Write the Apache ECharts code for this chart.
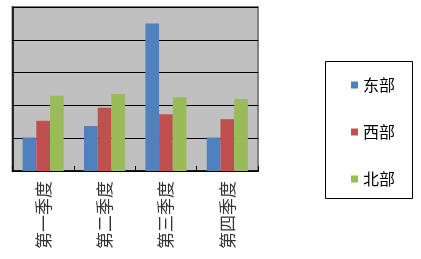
<!DOCTYPE html>
<html><head><meta charset="utf-8">
<script src="https://cdn.jsdelivr.net/npm/echarts@6/dist/echarts.min.js"></script>
<style>html,body{margin:0;padding:0;background:#fff}#c{width:421px;height:259px}</style>
</head><body><div id="c"></div>
<script>
const categories = ['第一季度','第二季度','第三季度','第四季度'];
const east = [20.4, 27.4, 90, 20.4];
const west = [30.6, 38.6, 34.6, 31.6];
const north = [45.9, 46.9, 45, 43.9];
const seriesNames = ['东部','西部','北部'];
const colors = ['#4F81BD','#C0504D','#9BBB59'];
const font = '"Noto Sans CJK SC", sans-serif';
const chart = echarts.init(document.getElementById('c'));
chart.setOption({
  animation:false,
  grid:{left:12.5,top:7,right:163,bottom:88,show:true,backgroundColor:'#C0C0C0',borderColor:'#808080',borderWidth:2},
  xAxis:{type:'category',data:categories,
    axisLine:{lineStyle:{color:'#000',width:1.5}},
    axisTick:{show:true,inside:true,length:5,lineStyle:{color:'#000'}},
    axisLabel:{rotate:90,margin:10,fontSize:17,color:'#333',fontFamily:font}},
  yAxis:{type:'value',min:0,max:100,interval:20,
    axisLine:{show:true,lineStyle:{color:'#000',width:1.5}},
    axisTick:{show:false},axisLabel:{show:false},
    splitLine:{lineStyle:{color:'#000',width:1}}},
  legend:{orient:'vertical',left:346,top:72,itemWidth:7,itemHeight:7,itemGap:31,icon:'rect',
    textStyle:{fontSize:16,lineHeight:16,color:'#000',fontFamily:font},data:seriesNames},
  graphic:[{type:'rect',shape:{x:325.5,y:61.5,width:87,height:137},style:{fill:'none',stroke:'#000',lineWidth:1}}],
  series:[
    {name:seriesNames[0],type:'bar',data:east,itemStyle:{color:colors[0]},barGap:'0%',barCategoryGap:'33%'},
    {name:seriesNames[1],type:'bar',data:west,itemStyle:{color:colors[1]},barGap:'0%',barCategoryGap:'33%'},
    {name:seriesNames[2],type:'bar',data:north,itemStyle:{color:colors[2]},barGap:'0%',barCategoryGap:'33%'}
  ]
});
</script></body></html>
